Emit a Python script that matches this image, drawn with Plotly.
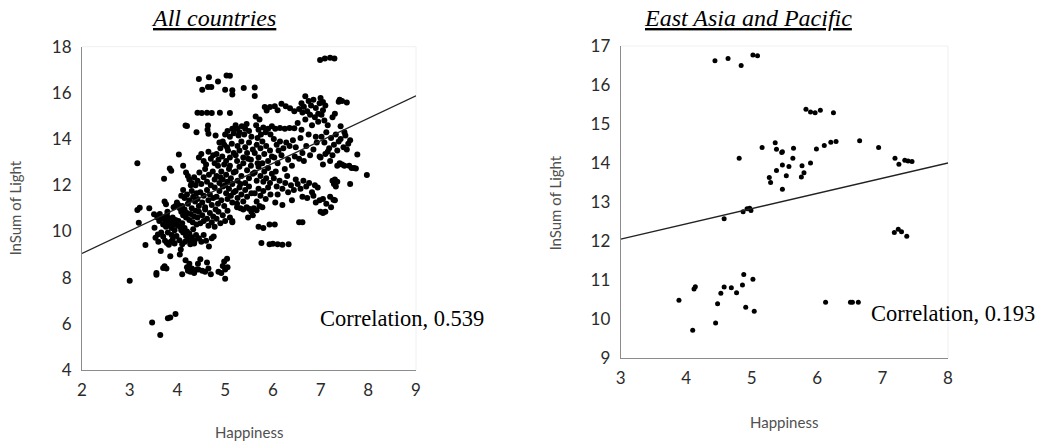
import plotly.graph_objects as go

# ---- All countries: happiness score vs log of summed night light ----
all_happiness = [
    3.00, 3.16, 3.16, 3.21, 3.19, 3.33, 3.41, 3.47, 3.51, 3.52, 3.54, 3.56, 3.56, 3.59, 3.58, 3.62, 3.64, 3.60,
    3.65, 3.70, 3.73, 3.77, 3.72, 3.84, 3.87, 3.80, 3.85, 3.96, 3.85, 3.68, 3.70, 3.72, 3.75, 3.76, 3.78, 3.80,
    3.82, 3.84, 3.86, 3.88, 3.90, 3.92, 3.94, 3.96, 3.98, 3.73, 3.76, 3.70, 3.74, 3.78, 3.82, 3.86, 3.90, 3.94,
    3.98, 3.66, 3.80, 3.88, 3.92, 3.96, 3.99, 3.63, 3.79,
    4.05, 4.07, 4.03, 4.17, 4.20, 4.12, 4.18, 4.22, 4.25, 4.30, 4.35, 4.38, 4.02, 4.05, 4.08, 4.10, 4.12, 4.15,
    4.18, 4.20, 4.22, 4.25, 4.28, 4.30, 4.32, 4.35, 4.38, 4.40, 4.02, 4.05, 4.08, 4.10, 4.12, 4.15, 4.18, 4.20,
    4.22, 4.25, 4.28, 4.30, 4.33, 4.36, 4.39, 4.04, 4.10, 4.16, 4.27, 4.35, 4.15, 4.20, 4.25, 4.30, 4.33, 4.37,
    4.40, 4.12, 4.08, 4.28, 4.17, 4.20, 4.22, 4.27, 4.30, 4.35, 4.40, 4.43, 4.10, 4.25,
    4.45, 4.66, 4.52, 4.64, 4.71, 4.42, 4.51, 4.62, 4.72, 4.40, 4.64, 4.63, 4.65,
    4.45, 4.50, 4.55, 4.60, 4.65, 4.70, 4.75, 4.78,
    4.42, 4.46, 4.50, 4.55, 4.58, 4.62, 4.66, 4.70, 4.74, 4.78,
    4.42, 4.45, 4.48, 4.52, 4.55, 4.58, 4.62, 4.65, 4.68, 4.72, 4.75, 4.78,
    4.42, 4.45, 4.48, 4.52, 4.55, 4.58, 4.62, 4.65, 4.68, 4.72, 4.75, 4.78,
    4.45, 4.50, 4.55, 4.60, 4.66, 4.72, 4.76,
    4.44, 4.52, 4.62, 4.65, 4.70, 4.48, 4.58,
    4.85, 5.03, 5.10, 5.00, 5.15, 5.15, 4.89, 5.10, 4.80, 5.00, 5.05, 5.10, 5.15, 5.18, 4.95,
    4.82, 4.86, 4.90, 4.94, 4.98, 5.02, 5.06, 5.10, 5.14, 5.18, 4.88, 5.04,
    4.82, 4.85, 4.88, 4.92, 4.95, 4.98, 5.02, 5.05, 5.08, 5.12, 5.15, 5.18, 4.90, 5.00, 5.10,
    4.82, 4.85, 4.88, 4.92, 4.95, 4.98, 5.02, 5.05, 5.08, 5.12, 5.15, 5.18,
    4.82, 4.86, 4.90, 4.95, 5.00, 5.05, 5.10, 5.15, 4.80,
    4.86, 4.92, 4.98, 5.00, 5.05, 5.00, 5.04, 4.95,
    5.39, 5.22, 5.25, 5.30, 5.35, 5.40, 5.45, 5.50, 5.55, 5.28, 5.42,
    5.22, 5.26, 5.30, 5.34, 5.38, 5.42, 5.46, 5.50, 5.54, 5.58, 5.25, 5.48,
    5.22, 5.26, 5.30, 5.34, 5.38, 5.42, 5.46, 5.50, 5.54, 5.58, 5.32,
    5.22, 5.26, 5.30, 5.34, 5.38, 5.42, 5.46, 5.50, 5.55, 5.25,
    5.25, 5.32, 5.38, 5.45, 5.50, 5.55, 5.60, 5.66, 5.58, 5.48, 5.15,
    5.62, 5.62, 5.64, 5.72, 5.83, 5.87, 5.94,
    5.65, 5.70, 5.75, 5.80, 5.85, 5.90, 5.95, 5.98, 5.68,
    5.62, 5.66, 5.70, 5.74, 5.78, 5.82, 5.86, 5.90, 5.94, 5.98,
    5.62, 5.66, 5.70, 5.74, 5.78, 5.82, 5.86, 5.90, 5.94, 5.98, 5.80, 5.68,
    5.62, 5.66, 5.70, 5.74, 5.80, 5.85, 5.90, 5.95, 5.72, 5.78,
    5.70, 5.80, 5.93, 5.76, 5.93, 6.00,
    6.04, 6.18, 6.27, 6.36, 6.10, 6.45,
    6.05, 6.15, 6.25, 6.35, 6.45,
    6.02, 6.08, 6.15, 6.22, 6.28, 6.35, 6.42, 6.48, 6.12,
    6.03, 6.10, 6.18, 6.25, 6.32, 6.40, 6.46, 6.06,
    6.02, 6.08, 6.14, 6.20, 6.26, 6.32, 6.38, 6.44, 6.48, 6.10, 6.30,
    6.05, 6.20, 6.40, 6.04, 6.10, 6.20, 6.33,
    6.55, 6.60, 6.65, 6.68, 6.72, 6.75, 6.80, 6.85, 6.90, 6.95, 6.98, 6.62, 6.78, 6.88,
    6.52, 6.60, 6.68, 6.75, 6.82, 6.90, 6.95, 6.58,
    6.55, 6.62, 6.70, 6.78, 6.85, 6.92, 6.98, 6.65,
    6.52, 6.58, 6.64, 6.70, 6.76, 6.82, 6.88, 6.94, 6.62, 6.72, 6.85, 6.98,
    6.55, 6.62, 6.90,
    6.99, 7.09, 7.20, 7.29,
    7.00, 7.05, 7.10, 7.38, 7.40, 7.45, 7.55, 7.05,
    7.02, 7.08, 7.15, 7.25, 7.30, 7.42, 7.50,
    7.02, 7.08, 7.12, 7.18, 7.22, 7.28, 7.32, 7.38, 7.42, 7.48, 7.52, 7.58, 7.62, 7.15, 7.35, 7.55,
    7.00, 7.05, 7.10, 7.20, 7.25, 7.35, 7.40, 7.45, 7.50, 7.60, 7.65, 7.70, 7.77, 7.97, 7.74, 7.62,
    7.25, 7.28, 7.30, 7.32, 7.35,
    7.05, 7.12, 7.20, 7.30, 7.22, 7.27,
    7.00, 7.05, 7.10,
]
all_light = [
    7.87, 12.95, 10.93, 11.03, 10.38, 9.41, 11.00, 6.06, 10.74, 10.16, 9.73, 8.20, 8.13, 9.87, 10.60, 10.45, 5.52, 9.55,
    9.15, 8.42, 8.49, 8.39, 12.28, 12.73, 12.63, 6.24, 6.27, 6.42, 8.93, 10.55, 10.30, 10.62, 10.48, 10.20, 10.70, 10.38,
    10.55, 10.25, 10.42, 10.15, 10.60, 10.35, 10.05, 10.50, 10.28, 11.30, 11.18, 9.78, 9.60, 9.50, 9.42, 9.55, 9.65, 9.48,
    9.80, 9.95, 9.95, 9.85, 11.05, 11.10, 11.25, 10.75, 10.85,
    9.00, 9.22, 13.33, 14.59, 14.57, 12.85, 12.55, 12.40, 12.25, 12.10, 12.35, 12.00, 11.15, 11.00, 10.85, 11.10, 10.70, 10.95,
    10.60, 10.80, 11.20, 10.50, 10.75, 11.00, 10.40, 10.65, 10.90, 10.30, 10.45, 10.20, 10.05, 10.35, 9.95, 10.15, 9.80, 10.00,
    9.70, 9.90, 9.55, 9.75, 10.10, 9.60, 9.85, 9.62, 9.45, 9.55, 9.45, 9.48, 11.45, 11.60, 11.35, 11.75, 11.50, 11.30,
    11.65, 11.80, 11.55, 12.00, 8.75, 8.45, 8.30, 8.25, 8.40, 8.20, 8.35, 8.60, 8.15, 8.60,
    16.60, 16.68, 16.14, 16.26, 16.26, 15.14, 15.13, 15.14, 15.13, 14.30, 14.59, 14.40, 14.23,
    13.20, 13.35, 13.05, 12.90, 13.45, 13.15, 13.30, 12.95,
    12.20, 12.55, 12.05, 12.35, 12.70, 12.15, 12.45, 12.00, 12.60, 12.25,
    11.40, 11.10, 11.70, 11.25, 11.55, 11.05, 11.80, 11.35, 11.60, 11.15, 11.45, 11.90,
    10.60, 10.85, 10.35, 10.70, 10.45, 10.95, 10.55, 10.25, 10.80, 10.40, 10.65, 10.20,
    9.70, 9.55, 9.85, 9.60, 9.35, 9.70, 9.78,
    8.35, 8.30, 8.65, 8.40, 8.15, 8.80, 8.25,
    16.49, 16.75, 16.74, 16.14, 16.11, 15.93, 15.14, 15.13, 14.15, 14.20, 14.35, 14.10, 14.45, 14.25, 13.90,
    13.35, 13.10, 13.60, 13.25, 13.75, 13.05, 13.50, 13.20, 13.80, 13.40, 13.85, 13.65,
    12.40, 12.85, 12.10, 12.60, 12.25, 12.90, 12.45, 12.15, 12.70, 12.30, 12.05, 12.55, 12.35, 12.00, 12.85,
    11.50, 11.20, 11.75, 11.35, 11.95, 11.10, 11.65, 11.40, 11.85, 11.55, 11.25, 11.70,
    10.55, 10.85, 10.35, 10.70, 10.45, 10.90, 10.60, 10.40, 10.95,
    8.25, 8.20, 8.70, 8.35, 8.45, 7.95, 8.82, 8.50,
    16.21, 14.60, 14.45, 14.30, 14.55, 14.20, 14.65, 14.35, 14.10, 14.15, 14.45,
    13.30, 13.70, 13.50, 13.90, 13.20, 13.65, 13.40, 13.85, 13.10, 13.55, 13.05, 13.15,
    12.60, 12.20, 12.80, 12.40, 12.95, 12.10, 12.65, 12.30, 12.85, 12.50, 12.05,
    11.75, 11.45, 11.90, 11.60, 11.30, 11.80, 11.50, 11.95, 11.65, 11.20,
    11.05, 11.00, 10.95, 11.05, 10.98, 10.85, 11.00, 10.92, 10.70, 10.60, 10.45,
    16.23, 15.87, 14.98, 14.85, 15.39, 15.24, 15.39,
    14.60, 14.40, 14.20, 14.50, 14.30, 14.45, 14.20, 14.55, 14.05,
    13.40, 13.75, 13.20, 13.60, 13.90, 13.35, 13.70, 13.05, 13.50, 13.25,
    12.55, 12.20, 12.80, 12.40, 12.95, 12.60, 12.30, 12.75, 12.10, 12.50, 12.15, 12.95,
    11.65, 11.30, 11.85, 11.55, 11.75, 11.40, 11.90, 11.60, 11.10, 11.05,
    10.20, 10.15, 10.30, 9.50, 9.45, 9.47,
    15.42, 15.53, 15.42, 15.34, 15.25, 15.20,
    14.45, 14.48, 14.45, 14.48, 14.47,
    14.00, 13.75, 13.90, 13.60, 13.85, 13.70, 13.95, 13.65, 13.50,
    13.20, 12.95, 13.30, 12.70, 13.10, 12.85, 13.25, 12.60,
    12.30, 11.95, 12.20, 11.85, 12.10, 11.70, 12.00, 11.80, 12.25, 11.60, 12.40,
    11.25, 11.15, 11.35, 10.30, 9.45, 9.42, 9.45,
    15.30, 15.55, 15.40, 15.85, 15.20, 15.65, 15.45, 15.70, 15.35, 15.10, 15.55, 15.15, 15.05, 14.95,
    14.70, 14.40, 14.85, 14.20, 14.60, 14.10, 14.75, 14.05,
    13.15, 13.40, 13.70, 13.30, 13.55, 13.85, 13.25, 13.05,
    12.05, 11.85, 12.20, 11.95, 12.10, 11.70, 12.00, 11.90, 11.50, 11.45, 11.55, 11.35,
    10.40, 10.40, 11.25,
    17.42, 17.49, 17.52, 17.49,
    15.78, 15.60, 15.45, 15.62, 15.70, 15.65, 15.58, 15.25,
    15.05, 14.80, 14.60, 14.95, 15.10, 14.55, 14.30,
    14.10, 13.85, 14.30, 13.60, 14.05, 13.75, 14.20, 13.90, 14.00, 13.65, 14.15, 13.80, 13.95, 13.45, 13.50, 13.55,
    13.20, 12.90, 13.35, 13.05, 13.30, 12.85, 12.95, 12.90, 12.85, 12.85, 12.75, 12.75, 13.33, 12.44, 12.73, 12.05,
    12.20, 12.05, 12.25, 11.95, 12.15,
    11.40, 11.20, 11.50, 11.35, 11.05, 11.37,
    10.85, 10.80, 10.85,
]

# ---- East Asia and Pacific ----
eap_happiness = [
    4.44, 4.64, 4.84, 5.02, 5.09,
    5.83, 5.90, 5.97, 6.05, 6.25,
    4.81, 5.16, 5.36, 5.38, 5.46, 5.47, 5.64, 5.63, 5.47, 5.57, 5.38, 5.53, 5.27, 5.29, 5.47,
    5.77, 5.80, 5.76, 5.90, 5.99, 6.11, 6.21, 6.29, 6.65, 6.94, 7.19, 7.25, 7.34, 7.39, 7.45,
    4.58, 4.87, 4.93, 4.97, 4.99,
    7.18, 7.24, 7.29, 7.37,
    3.89, 4.12, 4.14, 4.10, 4.45, 4.48, 4.53, 4.58, 4.69, 4.77, 4.86, 4.88, 4.91, 5.02, 5.04,
    6.13, 6.51, 6.54, 6.63,
]
eap_light = [
    16.62, 16.68, 16.50, 16.77, 16.75,
    15.38, 15.31, 15.29, 15.35, 15.29,
    14.12, 14.40, 14.52, 14.35, 14.27, 14.29, 14.38, 14.12, 13.95, 13.91, 13.81, 13.67, 13.63, 13.50, 13.33,
    13.93, 13.75, 13.64, 14.00, 14.36, 14.45, 14.53, 14.55, 14.57, 14.40, 14.12, 13.97, 14.07, 14.05, 14.04,
    12.57, 12.75, 12.83, 12.84, 12.78,
    12.22, 12.30, 12.24, 12.12,
    10.48, 10.77, 10.83, 9.71, 9.90, 10.39, 10.66, 10.82, 10.80, 10.67, 10.87, 11.14, 10.30, 11.02, 10.20,
    10.43, 10.43, 10.43, 10.43,
]

# Linear trend lines (slope, intercept) and correlation labels
all_trend = (0.975, 7.10)
eap_trend = (0.39, 10.88)
all_corr = "Correlation, 0.539"
eap_corr = "Correlation, 0.193"

all_xrange, all_yrange = [2, 9], [4, 18]
eap_xrange, eap_yrange = [3, 8], [9, 17]

W, H = 1049, 444
SANS = "Lato, Open Sans, sans-serif"
SERIF = "Liberation Serif, Times New Roman, serif"
TICK_COLOR = "#2b2b2b"
TITLE_COLOR = "#505050"
AXIS_COLOR = "#8c8c8c"


def px_dom(a, b, total):
    return [a / total, b / total]


left_x = px_dom(82, 416, W)
left_y = [1 - 370 / H, 1 - 46.7 / H]
right_x = px_dom(620.7, 948, W)
right_y = [1 - 358 / H, 1 - 46 / H]

fig = go.Figure()

fig.add_trace(go.Scatter(
    x=all_happiness, y=all_light, mode="markers",
    marker=dict(color="black", size=6, line=dict(width=0)),
    xaxis="x", yaxis="y", showlegend=False, cliponaxis=False,
))
fig.add_trace(go.Scatter(
    x=all_xrange, y=[all_trend[0] * v + all_trend[1] for v in all_xrange], mode="lines",
    line=dict(color="#222222", width=1.3), xaxis="x", yaxis="y", showlegend=False,
))
fig.add_trace(go.Scatter(
    x=eap_happiness, y=eap_light, mode="markers",
    marker=dict(color="black", size=5, line=dict(width=0)),
    xaxis="x2", yaxis="y2", showlegend=False, cliponaxis=False,
))
fig.add_trace(go.Scatter(
    x=eap_xrange, y=[eap_trend[0] * v + eap_trend[1] for v in eap_xrange], mode="lines",
    line=dict(color="#222222", width=1.3), xaxis="x2", yaxis="y2", showlegend=False,
))

axis_common = dict(
    showgrid=False, zeroline=False, showline=True, linecolor=AXIS_COLOR, linewidth=1,
    ticks="", tickfont=dict(family=SANS, size=17, color=TICK_COLOR),
    fixedrange=True, automargin=False,
)

fig.update_layout(
    width=W, height=H, autosize=False,
    margin=dict(l=0, r=0, t=0, b=0, pad=0, autoexpand=False),
    paper_bgcolor="white", plot_bgcolor="white",
    xaxis=dict(domain=left_x, range=all_xrange, dtick=1, anchor="y", ticklabelstandoff=5, **axis_common),
    yaxis=dict(domain=left_y, range=all_yrange, dtick=2, anchor="x", ticklabelstandoff=6, **axis_common),
    xaxis2=dict(domain=right_x, range=eap_xrange, dtick=1, anchor="y2", ticklabelstandoff=5, **axis_common),
    yaxis2=dict(domain=right_y, range=eap_yrange, dtick=1, anchor="x2", ticklabelstandoff=6, **axis_common),
)

# faint chart-area frame on top and right
for x0, x1, y0, y1 in [(left_x[0], left_x[1], left_y[0], left_y[1]),
                       (right_x[0], right_x[1], right_y[0], right_y[1])]:
    fig.add_shape(type="line", xref="paper", yref="paper", x0=x0, x1=x1, y0=y1, y1=y1,
                  line=dict(color="#f0f0f0", width=1), layer="below")
    fig.add_shape(type="line", xref="paper", yref="paper", x0=x1, x1=x1, y0=y0, y1=y1,
                  line=dict(color="#f0f0f0", width=1), layer="below")


def note(text, x, y, family, size, color, xanchor="center", angle=0):
    return dict(text=text, x=x / W, y=1 - y / H, xref="paper", yref="paper", showarrow=False,
                xanchor=xanchor, yanchor="middle", textangle=angle,
                font=dict(family=family, size=size, color=color))


annotations = [
    # panel titles
    note("<i><u>All countries</u></i>", 213, 18, SERIF, 24, "black"),
    note("<i><u>East Asia and Pacific</u></i>", 748, 18, SERIF, 24, "black"),
    # axis titles
    note("Happiness", 249, 432, SANS, 15, TITLE_COLOR),
    note("Happiness", 784, 422, SANS, 15, TITLE_COLOR),
    note("lnSum of Light", 15, 208, SANS, 15, TITLE_COLOR, angle=-90),
    note("lnSum of Light", 555, 203, SANS, 15, TITLE_COLOR, angle=-90),
    # correlation labels
    note(all_corr, 318, 318, SERIF, 22.5, "black", xanchor="left"),
    note(eap_corr, 869, 313, SERIF, 22.5, "black", xanchor="left"),
]
fig.update_layout(annotations=annotations)

fig.write_html("out.html", config={"responsive": False, "displayModeBar": False})
